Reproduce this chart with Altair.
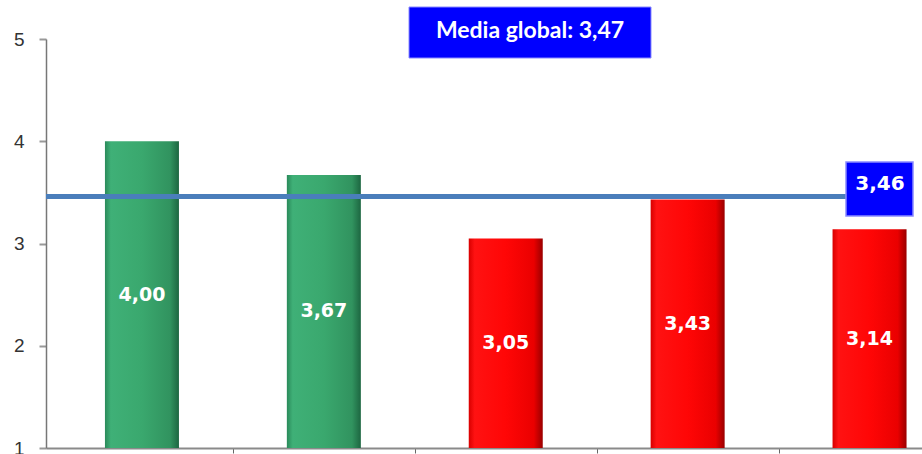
import altair as alt
import pandas as pd

positions = [0.5, 1.5, 2.5, 3.5, 4.5]
values = [4.00, 3.67, 3.05, 3.43, 3.14]
labels = ["4,00", "3,67", "3,05", "3,43", "3,14"]
groups = ["verde", "verde", "rojo", "rojo", "rojo"]
y_ticks = [1, 2, 3, 4, 5]
x_ticks = [1, 2, 3, 4]
mean_line = 3.46
mean_line_label = "3,46"
global_title = "Media global: 3,47"

df = pd.DataFrame({"pos": positions, "value": values, "label": labels, "group": groups})
df["base"] = 1.0
df["mid"] = (df["value"] + df["base"]) / 2

W, H = 876, 409
xscale = alt.Scale(domain=[0, W / 184], nice=False, zero=False)
yscale = alt.Scale(domain=[1, 5], nice=False, zero=False)

base = alt.Chart(df)

green_grad = alt.Gradient(
    gradient="linear", x1=0, x2=1, y1=0, y2=0,
    stops=[
        alt.GradientStop(offset=0, color="#2a8a5a"),
        alt.GradientStop(offset=0.08, color="#3fb077"),
        alt.GradientStop(offset=0.5, color="#3aa86e"),
        alt.GradientStop(offset=0.88, color="#31935f"),
        alt.GradientStop(offset=1, color="#1d6641"),
    ],
)
red_grad = alt.Gradient(
    gradient="linear", x1=0, x2=1, y1=0, y2=0,
    stops=[
        alt.GradientStop(offset=0, color="#d80000"),
        alt.GradientStop(offset=0.08, color="#ff1212"),
        alt.GradientStop(offset=0.5, color="#ff0606"),
        alt.GradientStop(offset=0.88, color="#ea0000"),
        alt.GradientStop(offset=1, color="#9a0000"),
    ],
)

x_enc = alt.X("pos:Q", scale=xscale,
              axis=alt.Axis(values=x_ticks, labels=False, tickSize=5, tickColor="#666",
                            domainColor="#8a8a8a", domainWidth=2, grid=False, title=None))
y_enc = alt.Y("value:Q", scale=yscale,
              axis=alt.Axis(values=y_ticks, format="d", tickSize=7, tickColor="#999", tickWidth=2,
                            domainColor="#777", domainWidth=1.5, grid=False, title=None,
                            labelFontSize=19, labelColor="#333", labelFont="Liberation Sans",
                            labelPadding=15))

bars_green = base.transform_filter(alt.datum.group == "verde").mark_bar(
    size=74, fill=green_grad, strokeWidth=0
).encode(x=x_enc, y=y_enc, y2="base:Q")

bars_red = base.transform_filter(alt.datum.group == "rojo").mark_bar(
    size=74, fill=red_grad, strokeWidth=0
).encode(x="pos:Q", y="value:Q", y2="base:Q")

bar_text = base.mark_text(
    color="white", fontSize=19, fontWeight="bold", font="DejaVu Sans"
).encode(x="pos:Q", y="mid:Q", text="label:N")

line_df = pd.DataFrame({"y": [mean_line], "lab": [mean_line_label]})
rule = alt.Chart(line_df).mark_rule(color="#4a7ebb", strokeWidth=5).encode(
    y=alt.Y("y:Q", scale=yscale), x=alt.value(0), x2=alt.value(800)
)
box_r = alt.Chart(line_df).mark_rect(color="#0000ff", stroke="#8a8aff", strokeWidth=1.5).encode(
    x=alt.value(800), x2=alt.value(867), y=alt.value(123), y2=alt.value(177)
)
text_r = alt.Chart(line_df).mark_text(
    color="white", fontSize=20, fontWeight="bold", font="DejaVu Sans"
).encode(x=alt.value(834), y=alt.value(145), text="lab:N")

title_df = pd.DataFrame({"t": [global_title]})
box_t = alt.Chart(title_df).mark_rect(color="#0000ff", stroke="#8a8aff", strokeWidth=1).encode(
    x=alt.value(363), x2=alt.value(605), y=alt.value(-32), y2=alt.value(19)
)
text_t = alt.Chart(title_df).mark_text(
    color="white", fontSize=23, fontWeight="bold", font="Lato"
).encode(x=alt.value(484), y=alt.value(-8), text="t:N")

chart = alt.layer(
    bars_green, bars_red, bar_text, rule, box_r, text_r, box_t, text_t
).properties(
    width=W, height=H,
    background="white",
    autosize=alt.AutoSizeParams(type="none"),
    padding={"left": 46, "top": 39, "right": 0, "bottom": 6},
).configure_view(strokeWidth=0, stroke="transparent").configure_axis(grid=False)

chart.save("out.html", embed_options={"renderer": "svg", "actions": False})
